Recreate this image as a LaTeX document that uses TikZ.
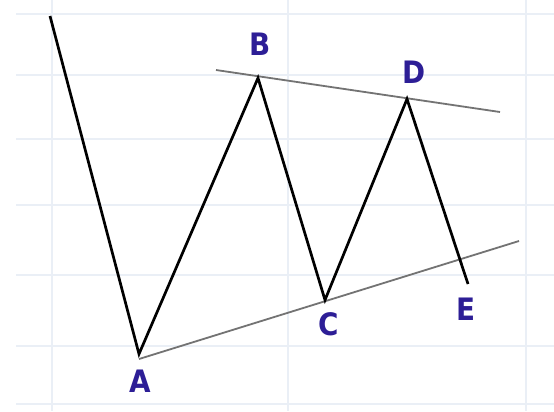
\documentclass[tikz,border=0pt]{standalone}
\usepackage{fontspec}
\setmainfont{DejaVu Sans}
\newfontfamily\lblfont{DejaVu Sans Condensed Bold}
\definecolor{gridc}{RGB}{234,239,246}
\definecolor{trendc}{RGB}{115,115,115}
\definecolor{lblc}{RGB}{45,30,150}
\tikzset{
  gridline/.style={draw=gridc, line width=1.6bp},
  wave/.style={draw=black, line width=2.7bp, line join=miter},
  trend/.style={draw=trendc, line width=1.8bp},
  lbl/.style={text=lblc, font=\lblfont\fontsize{31}{31}\selectfont, inner sep=0pt}
}
\begin{document}
\begin{tikzpicture}[x=1bp,y=-1bp]
\useasboundingbox (0,0) rectangle (554,411);
\fill[white] (0,0) rectangle (554,411);
% grid
\foreach \yy in {14,75,139,205,275,346,404} {
  \draw[gridline] (16,\yy) -- (554,\yy);
}
\foreach \xx in {52,288,526} {
  \draw[gridline] (\xx,0) -- (\xx,411);
}
% points
\coordinate (S) at (50,16);
\coordinate (A) at (139,354);
\coordinate (B) at (258,78);
\coordinate (C) at (325,300);
\coordinate (D) at (407,99);
\coordinate (E) at (468,284);
\coordinate (U1) at (216,70);
\coordinate (U2) at (500,112);
\coordinate (L1) at (139,359);
\coordinate (L2) at (519,241);
% trend lines
\draw[trend] (U1) -- (U2);
\draw[trend] (L1) -- (L2);
% wave
\draw[wave] (S) -- (A) -- (B) -- (C) -- (D) -- (E);
% labels
\node[lbl] (lA) at (140,381) {A};
\node[lbl] (lB) at (260,44) {B};
\node[lbl] (lC) at (329,324) {C};
\node[lbl] (lD) at (414,72) {D};
\node[lbl] (lE) at (466,309) {E};
\end{tikzpicture}
\end{document}
